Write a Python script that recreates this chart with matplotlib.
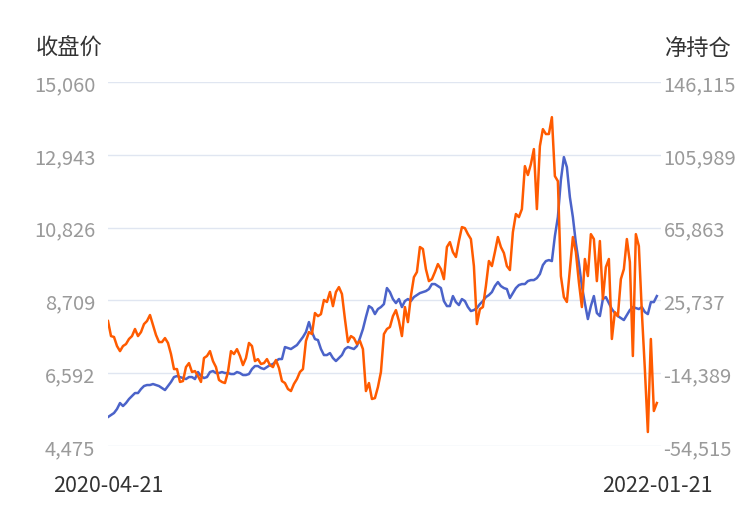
import matplotlib
matplotlib.use('Agg')
import matplotlib.pyplot as plt

# close price (left axis), sampled evenly from 2020-04-21 to 2022-01-21
CLOSE = [
    5318, 5376, 5435, 5551, 5725, 5638, 5725, 5842, 5929, 6016,
    6016, 6132, 6220, 6249, 6249, 6278, 6249, 6220, 6162, 6103,
    6220, 6336, 6481, 6510, 6481, 6452, 6423, 6481, 6481, 6423,
    6627, 6510, 6452, 6481, 6627, 6656, 6598, 6598, 6627, 6598,
    6598, 6569, 6569, 6627, 6598, 6540, 6540, 6569, 6714, 6801,
    6801, 6743, 6714, 6772, 6830, 6859, 6947, 7005, 7005, 7354,
    7325, 7296, 7354, 7412, 7528, 7645, 7790, 8081, 7790, 7586,
    7557, 7296, 7121, 7121, 7179, 7034, 6947, 7034, 7121, 7296,
    7354, 7325, 7296, 7383, 7615, 7877, 8226, 8546, 8488, 8313,
    8459, 8517, 8604, 9070, 8953, 8750, 8633, 8750, 8517, 8692,
    8750, 8692, 8808, 8866, 8924, 8953, 8982, 9040, 9186, 9186,
    9128, 9070, 8692, 8546, 8546, 8837, 8662, 8575, 8750, 8692,
    8517, 8401, 8430, 8488, 8604, 8692, 8808, 8866, 8953, 9128,
    9244, 9128, 9070, 9040, 8779, 8924, 9070, 9157, 9186, 9186,
    9273, 9302, 9302, 9360, 9477, 9738, 9855, 9884, 9855, 10582,
    11134, 12210, 12879, 12588, 11716, 11134, 10378, 9797, 9128, 8633,
    8168, 8546, 8837, 8343, 8255, 8750, 8808, 8633, 8459, 8343,
    8255, 8197, 8139, 8284, 8430, 8517, 8488, 8459, 8517, 8372,
    8313, 8662, 8662, 8837,
]

# net position (right axis), same dates
NET = [
    14400, 6100, 5600, 600, -2200, 600, 1700, 4500, 6100, 10000,
    6100, 8300, 12700, 14400, 17700, 12200, 6700, 2800, 2800, 5000,
    2300, -3800, -12100, -12100, -19200, -18700, -11000, -8800, -13700, -13200,
    -15900, -19200, -6000, -4900, -2200, -7700, -11000, -18100, -19200, -19800,
    -13700, -2200, -3800, -1100, -4900, -9900, -6000, 2300, 600, -7700,
    -6600, -9300, -8800, -6600, -9900, -11000, -7100, -11500, -18700, -19800,
    -23100, -24200, -20300, -17600, -13700, -12100, 3400, 8300, 7200, 18800,
    17100, 18200, 26000, 24900, 30400, 22600, 30400, 33100, 29300, 15500,
    2800, 6100, 5000, 1700, 3400, -1100, -24200, -19800, -28600, -28100,
    -22000, -13700, 7200, 10000, 11100, 17100, 20400, 14400, 6100, 22100,
    13800, 28200, 38600, 41400, 55200, 54100, 43000, 36400, 37500, 41400,
    45800, 43000, 37500, 55200, 57900, 52400, 49700, 58500, 66200, 65600,
    62300, 59600, 44700, 12700, 21000, 22100, 33700, 47500, 44700, 52400,
    60700, 55200, 51900, 44700, 42500, 63400, 73400, 71700, 76100, 99800,
    94900, 100900, 109200, 76100, 110800, 120200, 117500, 117500, 126800, 94300,
    91500, 39200, 27600, 24900, 43000, 60700, 52400, 35900, 22100, 48600,
    39200, 62300, 59600, 36400, 58500, 26500, 44100, 48600, 4500, 19300,
    17100, 37500, 43000, 59600, 46900, -4900, 62300, 55700, 19300, -12100,
    -46800, 4500, -35200, -30800,
]

DATE_LABELS = ['2020-04-21', '2022-01-21']
LEFT_TICKS = [4475, 6592, 8709, 10826, 12943, 15060]
RIGHT_TICKS = [-54515, -14389, 25737, 65863, 105989, 146115]

plt.rcParams['font.family'] = ['Noto Sans CJK SC', 'DejaVu Sans']

fig = plt.figure(figsize=(7.5, 5.1), dpi=100)
ax = fig.add_axes([0.144, 0.1235, 0.737, 0.7135])
ax2 = ax.twinx()

xs = list(range(len(CLOSE)))
ax.plot(xs, CLOSE, color='#4b63c9', lw=1.8, zorder=3)
ax2.plot(xs, NET, color='#ff5b00', lw=1.8, zorder=3)

ax.set_xlim(0, 184.3)
ax.set_ylim(LEFT_TICKS[0], LEFT_TICKS[-1])
ax2.set_ylim(RIGHT_TICKS[0], RIGHT_TICKS[-1])

ax.set_yticks(LEFT_TICKS)
ax.set_yticklabels(['{:,}'.format(v) for v in LEFT_TICKS])
ax2.set_yticks(RIGHT_TICKS)
ax2.set_yticklabels(['{:,}'.format(v) for v in RIGHT_TICKS])
ax.set_xticks([0, len(CLOSE) - 1])
ax.set_xticklabels(DATE_LABELS)

ax.grid(axis='y', color='#e0e6f1', lw=1)
ax.set_axisbelow(True)
for a in (ax, ax2):
    for s in a.spines.values():
        s.set_visible(False)
    a.tick_params(length=0)
ax.tick_params(axis='y', labelsize=14.5, labelcolor='#9a9a9a', pad=9)
ax2.tick_params(axis='y', labelsize=14.5, labelcolor='#9a9a9a', pad=2)
ax.tick_params(axis='x', labelsize=15.5, labelcolor='#333333', pad=20)

fig.text(0.047, 0.905, '收盘价', fontsize=16, color='#333333', ha='left', va='center')
fig.text(0.975, 0.905, '净持仓', fontsize=16, color='#333333', ha='right', va='center')

fig.savefig('out.png', dpi=100)
